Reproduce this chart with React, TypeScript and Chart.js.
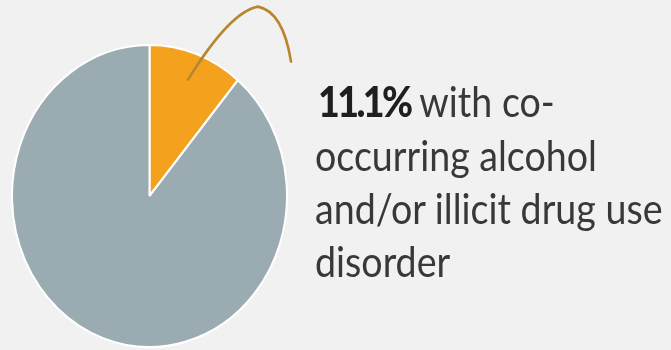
import React, { useEffect, useRef } from "react";
import { Chart, registerables } from "chart.js";

Chart.register(...registerables);

// ---- data ----
const categories = [
  "With co-occurring alcohol and/or illicit drug use disorder",
  "Without co-occurring disorder",
];
const values = [11.1, 88.9];
const sliceColors = ["#f4a21e", "#9aabb2"];
const calloutValue = "11.1%";
const calloutLines = ["with co-", "occurring alcohol", "and/or illicit drug use", "disorder"];

// ---- layout ----
const W = 671;
const H = 350;
const CX = 149.5;
const CY = 196;
const RX = 137.5;
const RY = 151;
const BORDER = 2;
const SIDE = 2 * RX + BORDER;
const PAD_LEFT = CX - SIDE / 2;
const PAD_TOP = CY - SIDE / 2;

const FONT_SIZE = 37.6;
const TEXT_SCALE_Y = 1.12;
const TEXT_LEFT = 315;
const BASELINES = [117, 171, 224.5, 277.5];
const ASCENT = 0.887;

const ellipsePlugin = {
  id: "ellipse",
  beforeDatasetsDraw(chart: any) {
    const a = chart.chartArea;
    const cx = (a.left + a.right) / 2;
    const cy = (a.top + a.bottom) / 2;
    const ctx = chart.ctx;
    ctx.save();
    ctx.translate(cx, cy);
    ctx.scale(1, RY / RX);
    ctx.translate(-cx, -cy);
  },
  afterDatasetsDraw(chart: any) {
    chart.ctx.restore();
  },
};

const leaderPlugin = {
  id: "leader",
  afterDraw(chart: any) {
    const arc = chart.getDatasetMeta(0).data[0] as any;
    if (!arc) return;
    const mid = (arc.startAngle + arc.endAngle) / 2;
    const r = arc.outerRadius * 0.82;
    const sx = arc.x + Math.cos(mid) * r;
    const sy = arc.y + Math.sin(mid) * r * (RY / RX);
    const ctx = chart.ctx;
    ctx.save();
    ctx.strokeStyle = "#b8862f";
    ctx.lineWidth = 2.6;
    ctx.lineCap = "round";
    ctx.beginPath();
    ctx.moveTo(sx, sy);
    ctx.quadraticCurveTo(sx + 42, sy - 68, sx + 70, sy - 73);
    ctx.quadraticCurveTo(sx + 95, sy - 68, sx + 103, sy - 18);
    ctx.stroke();
    ctx.restore();
  },
};

function PieChart() {
  const ref = useRef<HTMLCanvasElement | null>(null);
  useEffect(() => {
    if (!ref.current) return;
    const chart = new Chart(ref.current, {
      type: "pie",
      data: {
        labels: categories,
        datasets: [
          {
            data: values,
            backgroundColor: sliceColors,
            borderColor: "#ffffff",
            borderWidth: BORDER,
            hoverOffset: 0,
          },
        ],
      },
      options: {
        responsive: false,
        animation: false,
        devicePixelRatio: 1,
        layout: {
          padding: {
            left: PAD_LEFT,
            top: PAD_TOP,
            right: W - PAD_LEFT - SIDE,
            bottom: H - PAD_TOP - SIDE,
          },
        },
        plugins: {
          legend: { display: false },
          tooltip: { enabled: false },
          title: { display: false },
        },
      },
      plugins: [ellipsePlugin, leaderPlugin],
    });
    return () => chart.destroy();
  }, []);
  return <canvas ref={ref} width={W} height={H} style={{ position: "absolute", left: 0, top: 0, width: W, height: H }} />;
}

export default function App() {
  const lineStyle = (i: number): React.CSSProperties => ({
    position: "absolute",
    left: TEXT_LEFT,
    top: BASELINES[i] - ASCENT * FONT_SIZE,
    fontSize: FONT_SIZE,
    lineHeight: `${FONT_SIZE}px`,
    whiteSpace: "nowrap",
    transform: `scaleY(${TEXT_SCALE_Y})`,
    transformOrigin: `0 ${ASCENT * FONT_SIZE}px`,
  });
  return (
    <div
      style={{
        position: "absolute",
        left: 0,
        top: 0,
        width: W,
        height: H,
        overflow: "hidden",
        background: "#f1f1f1",
        fontFamily: "Lato, 'Open Sans', sans-serif",
        color: "#383838",
      }}
    >
      <PieChart />
      {calloutLines.map((t, i) => (
        <div key={i} style={lineStyle(i)}>
          {i === 0 ? (
            <>
              <span style={{ fontWeight: 900, color: "#1f1f1f", letterSpacing: "-2.6px", marginLeft: 3 }}>
                {calloutValue}
              </span>{" "}
              {t}
            </>
          ) : (
            t
          )}
        </div>
      ))}
    </div>
  );
}
